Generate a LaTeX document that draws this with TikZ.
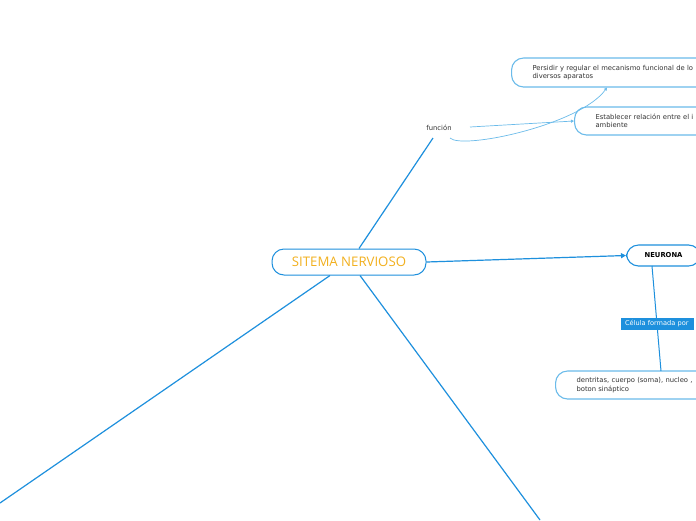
\documentclass[tikz,border=0pt]{standalone}
\usepackage{fontspec}
\setmainfont{DejaVu Sans}
\newfontfamily\titlefont{Open Sans}
\usetikzlibrary{arrows.meta}
\definecolor{mblue}{HTML}{1E90DD}
\definecolor{lblue}{HTML}{6BBBEA}
\definecolor{morange}{HTML}{F2B01E}
\definecolor{mtext}{HTML}{333333}
\tikzset{
  conn/.style={draw=mblue, line width=1.2pt},
  thin/.style={draw=lblue, line width=0.7pt},
  topicbox/.style={draw=lblue, line width=1.1pt, rounded corners=12pt, fill=white,
    anchor=west, align=left, inner xsep=21pt, inner ysep=0pt,
    font=\fontsize{6.8}{8.4}\selectfont, text=mtext},
  lbl/.style={fill=mblue, text=white, font=\fontsize{6.6}{8}\selectfont, inner xsep=4pt, inner ysep=2pt, text width=65pt, minimum height=12pt, align=left}
}
\begin{document}
\begin{tikzpicture}[x=1pt,y=-1pt]
\useasboundingbox (0,0) rectangle (696,520);
\clip (0,0) rectangle (696,520);
\fill[white] (0,0) rectangle (696,520);

% central
\node[draw=mblue, line width=1pt, rounded corners=12pt, minimum width=154pt, minimum height=26pt,
  text=morange, font=\titlefont\fontsize{13.2}{15}\selectfont] (center) at (349,262) {SITEMA NERVIOSO};

% boxes
\node[topicbox, minimum height=29pt, text width=230pt] (persidir) at (511,72.5)
  {\raisebox{-1.5pt}{\parbox[t]{230pt}{Persidir y regular el mecanismo funcional de lo\\diversos aparatos}}};
\node[topicbox, minimum height=28pt, text width=150pt] (establecer) at (574,121)
  {Establecer relación entre el i\\ambiente};
\node[topicbox, draw=mblue, minimum height=21pt, minimum width=74pt, align=center, inner xsep=0pt,
  font=\bfseries\fontsize{6.8}{8}\selectfont, text=black] (neurona) at (626,255.5) {NEURONA};
\node[topicbox, minimum height=28pt, text width=200pt] (dentritas) at (555,385)
  {dentritas, cuerpo (soma), nucleo ,\\boton sináptico};

\node[font=\fontsize{6.8}{8}\selectfont, text=mtext] (funcion) at (439,128) {función};

\coordinate (c1) at (359,248.5);
\coordinate (f1) at (433,138);
\coordinate (dl) at (0,503);
\coordinate (dr) at (540,520);
\coordinate (cl) at (330,275.5);
\coordinate (cr) at (360,275.5);

% connectors
\draw[conn] (c1) -- (f1);
\draw[conn] (cl) -- (dl);
\draw[conn] (cr) -- (dr);
\draw[conn, -{Triangle[length=5pt,width=5pt]}] (center.east) -- (neurona.west);
\draw[thin, -{Triangle[length=3pt,width=3pt]}] (470,127) -- (establecer.west);
\draw[thin, -{Triangle[length=3pt,width=3pt]}] (450,138) .. controls (462,150) and (580,125) .. (607,87.5);

\draw[conn, line width=1pt] (652,266) -- (661,371);
\node[lbl] (celula) at (657.5,324) {Célula formada por};
\end{tikzpicture}
\end{document}
